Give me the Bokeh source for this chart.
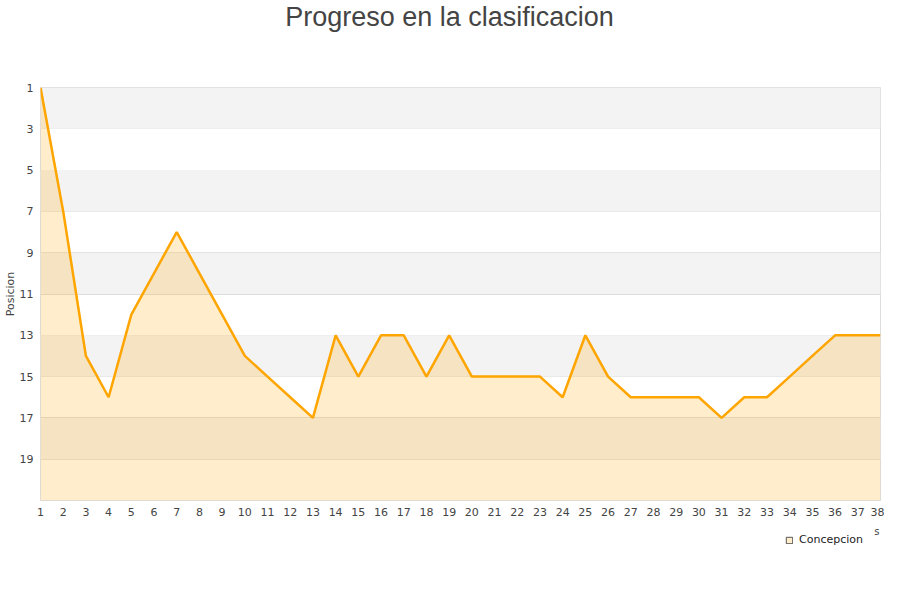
from bokeh.plotting import figure
from bokeh.layouts import column
from bokeh.models import Range1d, FixedTicker, BoxAnnotation, Legend, LegendItem, ColumnDataSource, Label
from bokeh.embed import file_html
from bokeh.resources import INLINE

jornadas = list(range(1, 39))
posicion = [1, 7, 14, 16, 12, 10, 8, 10, 12, 14, 15, 16, 17, 13, 15, 13, 13, 15, 13, 15,
            15, 15, 15, 16, 13, 15, 16, 16, 16, 16, 17, 16, 16, 15, 14, 13, 13, 13]
y_ticks = [1, 3, 5, 7, 9, 11, 13, 15, 17, 19]
team = "Concepcion"
title_text = "Progreso en la clasificacion"
y_label = "Posicion"
x_label = "s"


def strip(height):
    f = figure(width=884, height=height, output_backend="svg", toolbar_location=None,
               x_range=Range1d(40, 880), y_range=Range1d(height, 0),
               min_border_left=40, min_border_right=4, min_border_top=0, min_border_bottom=0,
               x_axis_type=None, y_axis_type=None)
    f.outline_line_color = None
    f.grid.grid_line_color = None
    f.border_fill_color = "white"
    f.background_fill_color = "white"
    return f


# title strip
t = strip(40)
t.add_layout(Label(x=449, y=16, text=title_text, text_align="center", text_baseline="middle",
                   text_font="Liberation Sans", text_font_size="27px", text_color="#444444"))

# main chart
p = figure(width=884, height=484, output_backend="svg", toolbar_location=None,
           x_range=Range1d(1, 38), y_range=Range1d(21, 1),
           min_border_left=40, min_border_right=4, min_border_top=47, min_border_bottom=24)
p.outline_line_color = "#dddddd"
p.background_fill_color = "white"
p.border_fill_color = "white"

for b in range(1, 21, 4):
    p.add_layout(BoxAnnotation(top=b, bottom=b + 2, fill_color="#f3f3f3", fill_alpha=1,
                               line_color=None, level="underlay"))

p.xgrid.grid_line_color = None
p.ygrid.grid_line_color = "#dedede"
p.ygrid.ticker = FixedTicker(ticks=y_ticks)

src = ColumnDataSource(dict(x=jornadas, y=posicion, y2=[21] * len(jornadas)))
p.varea(x="x", y1="y", y2="y2", source=src, fill_color="orange", fill_alpha=0.2)
p.line(x="x", y="y", source=src, line_color="orange", line_width=2.5)

p.xaxis.ticker = FixedTicker(ticks=jornadas)
p.yaxis.ticker = FixedTicker(ticks=y_ticks)
for ax in (p.xaxis[0], p.yaxis[0]):
    ax.axis_line_color = None
    ax.major_tick_line_color = None
    ax.minor_tick_line_color = None
    ax.major_tick_out = 0
    ax.major_tick_in = 0
    ax.minor_tick_out = 0
    ax.major_label_text_font = "DejaVu Sans"
    ax.major_label_text_font_size = "11px"
    ax.major_label_text_color = "#444444"
p.xaxis.major_label_standoff = 7
p.yaxis.major_label_standoff = 7
p.yaxis.axis_label = y_label
p.yaxis.axis_label_text_font = "DejaVu Sans"
p.yaxis.axis_label_text_font_size = "11px"
p.yaxis.axis_label_text_font_style = "normal"
p.yaxis.axis_label_text_color = "#444444"
p.yaxis.axis_label_standoff = 0

# legend strip below the chart
q = strip(60)
dummy = q.quad(left=[0], right=[1], bottom=[0], top=[1], fill_color="#ffedcc",
               line_color="#555555", line_width=1)
q.add_layout(Label(x=879, y=7, text=x_label, text_align="right", text_baseline="middle",
                   text_font="DejaVu Sans", text_font_size="10px", text_color="#444444"))
legend = Legend(items=[LegendItem(label=team, renderers=[dummy])],
                location=(745, 38), background_fill_alpha=0, border_line_color=None,
                label_text_font="DejaVu Sans", label_text_font_size="11px",
                label_text_color="#222222", glyph_width=8, glyph_height=8,
                padding=0, margin=0, label_standoff=6)
q.add_layout(legend)

layout = column(t, p, q, spacing=0)
open("out.html", "w").write(file_html(layout, INLINE))
